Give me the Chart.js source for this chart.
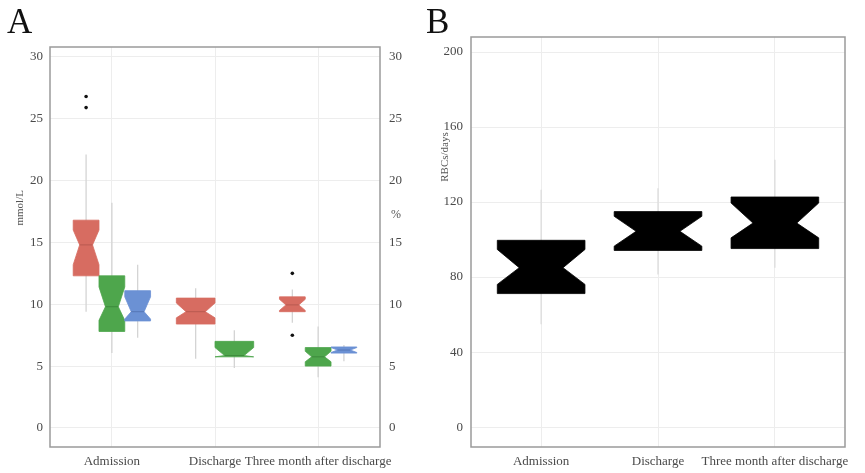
<!DOCTYPE html>
<html>
<head>
<meta charset="utf-8">
<script src="https://cdn.jsdelivr.net/npm/chart.js@4.4.1/dist/chart.umd.min.js"></script>
<style>
  body { margin: 0; background: #fff; width: 865px; height: 473px; position: relative; overflow: hidden; }
  .panel { position: absolute; top: 0; }
  .tag { position: absolute; top: 4px; font-family: "Liberation Serif", serif; font-size: 35px; line-height: 35px; color: #111; }
</style>
</head>
<body>
<canvas id="chartA" class="panel" style="left:0" width="430" height="473"></canvas>
<canvas id="chartB" class="panel" style="left:430px" width="435" height="473"></canvas>
<div class="tag" style="left:7px">A</div>
<div class="tag" style="left:426px">B</div>
<script>
const categories = ['Admission', 'Discharge', 'Three month after discharge'];
const ticksA = [0, 5, 10, 15, 20, 25, 30];
const ticksB = [0, 40, 80, 120, 160, 200];

// each box: [lower whisker, lower hinge, lower notch, median, upper notch, upper hinge, upper whisker]
const redStats = [
  [9.4, 12.3, 13.2, 14.8, 16.0, 16.8, 22.1],
  [5.6, 8.4, 8.9, 9.4, 10.1, 10.5, 11.3],
  [8.5, 9.4, 9.5, 9.95, 10.4, 10.6, 11.2]
];
const greenStats = [
  [6.05, 7.8, 8.7, 9.8, 11.4, 12.3, 18.2],
  [4.85, 5.75, 5.75, 5.85, 6.5, 7.0, 7.9],
  [4.1, 5.0, 5.35, 5.75, 6.2, 6.5, 8.2]
];
const blueStats = [
  [7.3, 8.65, 8.8, 9.4, 10.6, 11.1, 13.2],
  null,
  [5.4, 6.05, 6.1, 6.3, 6.5, 6.55, 6.7]
];
const redOutliers = [[26.8, 25.9], [], [12.5, 7.5]];
const greenOutliers = [[], [], []];
const blueOutliers = [[], [], []];

const rbcStats = [
  [54.9, 71.2, 76.1, 85.0, 94.7, 99.6, 126.5],
  [81.4, 94.2, 96.5, 104.4, 112.4, 114.9, 127.4],
  [85.0, 95.2, 100.9, 108.8, 119.5, 122.7, 142.5]
];

const groupsA = [
  { stats: redStats, outliers: redOutliers, fill: '#d76c61', edge: '#b85a50' },
  { stats: greenStats, outliers: greenOutliers, fill: '#4ea64c', edge: '#3d8a3b' },
  { stats: blueStats, outliers: blueOutliers, fill: '#6b91d4', edge: '#5577b6' }
];
const groupsB = [
  { stats: rbcStats, outliers: [[], [], []], fill: '#000000', edge: '#000000' }
];

const serif = '"Liberation Serif", "Times New Roman", serif';
const tickColor = '#4a4a4a';
const gridColor = '#ededed';

// ggplot style dodge: 0.75 of a category shared by the boxes present there
function dodge(groups, ci, gi) {
  const present = groups.filter(g => g.stats[ci]);
  const w = 0.75 / present.length;
  const j = present.indexOf(groups[gi]);
  return { x: ci + 1 - 0.375 + (j + 0.5) * w, w: w };
}

function outlierPoints(groups) {
  const pts = [];
  groups.forEach((g, gi) => {
    g.outliers.forEach((vals, ci) => {
      vals.forEach(v => pts.push({ x: dodge(groups, ci, gi).x, y: v }));
    });
  });
  return pts;
}

function boxPlugin(groups, whiskerColor) {
  return {
    id: 'notchBox',
    beforeDatasetsDraw(chart) {
      const ctx = chart.ctx;
      const xs = chart.scales.x, ys = chart.scales.y;
      const py = v => ys.getPixelForValue(v);
      ctx.save();
      groups.forEach((g, gi) => {
        g.stats.forEach((s, ci) => {
          if (!s) return;
          const d = dodge(groups, ci, gi);
          const [lo, q1, n1, med, n2, q3, hi] = s;
          const xm = xs.getPixelForValue(d.x);
          const xl = xs.getPixelForValue(d.x - d.w / 2);
          const xr = xs.getPixelForValue(d.x + d.w / 2);
          const nl = xs.getPixelForValue(d.x - d.w / 4);
          const nr = xs.getPixelForValue(d.x + d.w / 4);
          // whisker
          ctx.strokeStyle = whiskerColor;
          ctx.lineWidth = 1.3;
          ctx.beginPath();
          ctx.moveTo(xm, py(hi));
          ctx.lineTo(xm, py(lo));
          ctx.stroke();
          // notched body
          ctx.beginPath();
          ctx.moveTo(xl, py(q3));
          ctx.lineTo(xl, py(n2));
          ctx.lineTo(nl, py(med));
          ctx.lineTo(xl, py(n1));
          ctx.lineTo(xl, py(q1));
          ctx.lineTo(xr, py(q1));
          ctx.lineTo(xr, py(n1));
          ctx.lineTo(nr, py(med));
          ctx.lineTo(xr, py(n2));
          ctx.lineTo(xr, py(q3));
          ctx.closePath();
          ctx.fillStyle = g.fill;
          ctx.fill();
          ctx.strokeStyle = g.fill;
          ctx.lineWidth = 0.8;
          ctx.stroke();
          // median
          ctx.strokeStyle = g.edge;
          ctx.lineWidth = 1;
          ctx.beginPath();
          ctx.moveTo(nl, py(med));
          ctx.lineTo(nr, py(med));
          ctx.stroke();
        });
      });
      ctx.restore();
    }
  };
}

function framePlugin(titles) {
  return {
    id: 'frameAndTitles',
    afterDraw(chart) {
      const ctx = chart.ctx;
      const a = chart.chartArea;
      ctx.save();
      ctx.strokeStyle = '#9a9a9a';
      ctx.lineWidth = 1.5;
      ctx.strokeRect(a.left, a.top, a.right - a.left, a.bottom - a.top);
      ctx.fillStyle = '#555';
      ctx.font = '11px ' + serif;
      ctx.textAlign = 'center';
      ctx.textBaseline = 'middle';
      titles.forEach(t => {
        const y = chart.scales.y.getPixelForValue(t.at);
        ctx.save();
        ctx.translate(t.x, y);
        if (t.rotate) ctx.rotate(-Math.PI / 2);
        ctx.font = t.size + 'px ' + serif;
        ctx.fillText(t.text, 0, 0);
        ctx.restore();
      });
      ctx.restore();
    }
  };
}

function yAxis(position, min, max, tickValues, width, padding, showGrid) {
  return {
    position: position,
    min: min,
    max: max,
    afterBuildTicks: s => { s.ticks = tickValues.map(v => ({ value: v })); },
    afterFit: s => { s.width = width; },
    border: { display: false },
    grid: { display: showGrid, color: gridColor, lineWidth: 1, drawTicks: false },
    ticks: { color: tickColor, padding: padding, font: { family: serif, size: 13 } }
  };
}

function xAxis() {
  return {
    type: 'linear',
    min: 0.4,
    max: 3.6,
    afterBuildTicks: s => { s.ticks = categories.map((c, i) => ({ value: i + 1 })); },
    afterFit: s => { s.height = 26; },
    border: { display: false },
    grid: { color: gridColor, lineWidth: 1, drawTicks: false },
    ticks: {
      color: tickColor, padding: 7, maxRotation: 0, autoSkip: false,
      font: { family: serif, size: 13 },
      callback: v => categories[Math.round(v) - 1]
    }
  };
}

const baseOptions = (scales, padding) => ({
  responsive: false,
  animation: false,
  layout: { padding: padding },
  plugins: { legend: { display: false }, tooltip: { enabled: false } },
  scales: scales
});

new Chart(document.getElementById('chartA'), {
  type: 'scatter',
  data: {
    datasets: [{
      data: outlierPoints(groupsA),
      pointRadius: 1.8,
      pointBackgroundColor: '#111',
      pointBorderWidth: 0,
      showLine: false
    }]
  },
  options: baseOptions({
    x: xAxis(),
    y: yAxis('left', -1.54, 30.8, ticksA, 50, 7, true),
    y2: yAxis('right', -1.54, 30.8, ticksA, 50, 9, false)
  }, { top: 47, bottom: 0, left: 0, right: 0 }),
  plugins: [
    boxPlugin(groupsA, '#d4d4d4'),
    framePlugin([
      { text: 'mmol/L', x: 20, at: 17.8, rotate: true, size: 11 },
      { text: '%', x: 396, at: 17.2, rotate: false, size: 12 }
    ])
  ]
});

new Chart(document.getElementById('chartB'), {
  type: 'scatter',
  data: {
    datasets: [{
      data: outlierPoints(groupsB),
      pointRadius: 1.8,
      pointBackgroundColor: '#111',
      pointBorderWidth: 0,
      showLine: false
    }]
  },
  options: baseOptions({
    x: xAxis(),
    y: yAxis('left', -10.6, 208, ticksB, 41, 8, true)
  }, { top: 37, bottom: 0, left: 0, right: 20 }),
  plugins: [
    boxPlugin(groupsB, '#dcdcdc'),
    framePlugin([
      { text: 'RBCs/days', x: 15, at: 144, rotate: true, size: 11 }
    ])
  ]
});
</script>
</body>
</html>
